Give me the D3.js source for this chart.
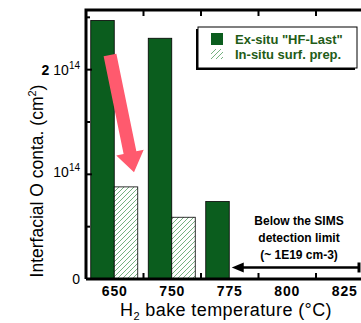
<!DOCTYPE html>
<html lang="en">
    <head>
        <meta charset="utf-8">
        <title>H2 bake</title>
        <script src="https://cdn.jsdelivr.net/npm/d3@7/dist/d3.min.js" charset="utf-8"></script>
        <style type="text/css">
            body { margin: 0; background: #fff; }
            #chart { width: 361px; height: 323px; overflow: hidden; }
            text { font-family: "Liberation Sans", Arial, sans-serif; }
        </style>
    </head>
    <body>
        <div id="chart"></div>
        <script>
            // Datos
            var categories = ["650", "750", "775", "800", "825"];
            var exSitu = [2.47, 2.30, 0.74, null, null];   // x 1e14 cm-2
            var inSitu = [0.88, 0.59, null, null, null];
            var seriesNames = ["Ex-situ \"HF-Last\"", "In-situ surf. prep."];
            var majorTicks = [0, 1, 2];
            var minorTicks = [0.5, 1.5, 2.5];
            var noteLines = ["Below the SIMS", "detection limit", "(~ 1E19 cm-3)"];

            var W = 361, H = 323;
            var margin = {top: 10, left: 86, bottom: 44};
            var plotW = 287.5, plotH = H - margin.top - margin.bottom;

            var green = "#0b5d1e", hatchCol = "#3a8f47", txtGreen = "#1f5c17";

            var svg = d3.select("#chart").append("svg")
                .attr("width", W)
                .attr("height", H);

            var defs = svg.append("defs");
            var pat = defs.append("pattern")
                .attr("id", "hatch")
                .attr("patternUnits", "userSpaceOnUse")
                .attr("width", 5).attr("height", 5);
            pat.append("rect").attr("width", 5).attr("height", 5).attr("fill", "#fff");
            pat.append("path").attr("d", "M-1,1 l2,-2 M0,5 l5,-5 M4,6 l2,-2")
                .attr("stroke", hatchCol).attr("stroke-width", 0.7);

            var g = svg.append("g")
                .attr("transform", "translate(" + margin.left + "," + margin.top + ")");

            // Escalas
            var x = d3.scaleBand().domain(categories).range([0, plotW]).padding(0);
            var x1 = d3.scaleBand().domain(["ex", "in"]).range([-24, 23]);
            var y = d3.scaleLinear().domain([0, 2.57]).range([plotH, 0]);

            var rows = categories.map(function(c, i) {
                return {cat: c, ex: exSitu[i], in: inSitu[i]};
            });

            // Barras
            ["ex", "in"].forEach(function(k) {
                g.selectAll(".bar-" + k)
                    .data(rows.filter(function(d) { return d[k] != null; }))
                    .enter()
                    .append("rect")
                    .attr("class", "bar-" + k)
                    .attr("x", function(d) { return x(d.cat) + x.bandwidth() / 2 + x1(k); })
                    .attr("width", x1.bandwidth())
                    .attr("y", function(d) { return y(d[k]); })
                    .attr("height", function(d) { return plotH - y(d[k]); })
                    .attr("fill", k == "ex" ? green : "url(#hatch)")
                    .attr("stroke", "#000")
                    .attr("stroke-width", 0.8);
            });

            // Ejes
            var boundaries = categories.slice(1).map(function(c) { return x(c); });
            var frame = g.append("g").attr("stroke", "#000").attr("stroke-width", 3).attr("fill", "none");
            frame.append("path").attr("d", "M0," + plotH + "V0H" + plotW);
            frame.append("path").attr("d", "M0," + plotH + "H" + plotW);

            var tickG = g.append("g").attr("stroke", "#000").attr("stroke-width", 2);
            boundaries.forEach(function(b) {
                tickG.append("line").attr("x1", b).attr("x2", b).attr("y1", plotH).attr("y2", plotH - 6);
                tickG.append("line").attr("x1", b).attr("x2", b).attr("y1", 0).attr("y2", 6);
            });
            majorTicks.forEach(function(t) {
                tickG.append("line").attr("x1", 0).attr("x2", 6).attr("y1", y(t)).attr("y2", y(t));
            });
            minorTicks.forEach(function(t) {
                tickG.append("line").attr("x1", 0).attr("x2", 4).attr("y1", y(t)).attr("y2", y(t));
            });

            // Etiquetas eje x
            g.selectAll(".xlab")
                .data(categories)
                .enter()
                .append("text")
                .attr("class", "xlab")
                .attr("x", function(d) { return x(d) + x.bandwidth() / 2; })
                .attr("y", plotH + 17)
                .attr("text-anchor", "middle")
                .style("font-size", "14px")
                .style("font-weight", "bold")
                .style("letter-spacing", "0.8px")
                .text(function(d) { return d; });

            // Etiquetas eje y
            var yl = g.append("g").attr("text-anchor", "end").style("font-size", "14px");
            yl.append("text").attr("x", -6).attr("y", y(0) + 5).text("0");
            var t1 = yl.append("text").attr("x", -6).attr("y", y(1) + 3);
            t1.append("tspan").text("10");
            t1.append("tspan").attr("dy", -6).style("font-size", "10px").text("14");
            var t2 = yl.append("text").attr("x", -6).attr("y", y(2) + 5);
            t2.append("tspan").style("font-weight", "bold").text("2 ");
            t2.append("tspan").text("10");
            t2.append("tspan").attr("dy", -6).style("font-size", "10px").text("14");

            // Titulos
            var xt = svg.append("text")
                .attr("x", 226).attr("y", 316)
                .attr("text-anchor", "middle")
                .style("font-size", "18px")
                .style("letter-spacing", "0.4px");
            xt.append("tspan").text("H");
            xt.append("tspan").attr("dy", 4).style("font-size", "11px").text("2");
            xt.append("tspan").attr("dy", -4).text(" bake temperature (°C)");

            var yt = svg.append("text")
                .attr("transform", "translate(43,181) rotate(-90)")
                .attr("text-anchor", "middle")
                .style("font-size", "17.5px");
            yt.append("tspan").text("Interfacial O conta. (cm");
            yt.append("tspan").attr("dy", -7).style("font-size", "11px").text("2");
            yt.append("tspan").attr("dy", 7).text(")");

            // Flecha rosa
            var p0 = [x("650") + 24, y(2.14)], p1 = [x("650") + 48, y(1.02)];
            var dx = p1[0] - p0[0], dy = p1[1] - p0[1], len = Math.sqrt(dx * dx + dy * dy);
            var ux = dx / len, uy = dy / len, nx = -uy, ny = ux;
            var sw = 6.5, hw = 14, hl = 20;
            var bx = p1[0] - ux * hl, by = p1[1] - uy * hl;
            var pts = [
                [p0[0] + nx * sw, p0[1] + ny * sw],
                [bx + nx * sw, by + ny * sw],
                [bx + nx * hw, by + ny * hw],
                p1,
                [bx - nx * hw, by - ny * hw],
                [bx - nx * sw, by - ny * sw],
                [p0[0] - nx * sw, p0[1] - ny * sw]
            ];
            g.append("polygon")
                .attr("points", pts.map(function(p) { return p.join(","); }).join(" "))
                .attr("fill", "#ff5a6e");

            // Leyenda
            var lg = svg.append("g").attr("transform", "translate(198,27)");
            lg.append("rect").attr("x", -2).attr("y", 2).attr("width", 159).attr("height", 41).attr("fill", "#000");
            lg.append("rect").attr("width", 159).attr("height", 41).attr("fill", "#fff")
                .attr("stroke", "#000").attr("stroke-width", 1);
            lg.append("rect").attr("x", 13).attr("y", 6).attr("width", 12).attr("height", 12).attr("fill", green);
            lg.append("rect").attr("x", 13).attr("y", 22).attr("width", 12).attr("height", 10).attr("fill", "url(#hatch)");
            lg.selectAll(".lt")
                .data(seriesNames)
                .enter()
                .append("text")
                .attr("class", "lt")
                .attr("x", 37)
                .attr("y", function(d, i) { return 17 + i * 15; })
                .style("font-size", "13px")
                .style("font-weight", "bold")
                .style("fill", txtGreen)
                .text(function(d) { return d; });

            // Nota SIMS
            var note = svg.append("g");
            note.selectAll("text")
                .data(noteLines)
                .enter()
                .append("text")
                .attr("x", 299)
                .attr("y", function(d, i) { return 225 + i * 17; })
                .attr("text-anchor", "middle")
                .style("font-size", "12px")
                .style("font-weight", "bold")
                .text(function(d) { return d; });
            var ay = margin.top + y(0.11);
            var ax0 = margin.left + x("775") + x.bandwidth() / 2 + 2, ax1 = 359;
            note.append("line").attr("x1", ax0 + 8).attr("x2", ax1).attr("y1", ay).attr("y2", ay)
                .attr("stroke", "#000").attr("stroke-width", 2.5);
            note.append("path").attr("d", "M" + ax0 + "," + ay + "l12,-5v10z").attr("fill", "#000");
            note.append("line").attr("x1", ax1).attr("x2", ax1).attr("y1", ay - 5).attr("y2", ay + 5)
                .attr("stroke", "#000").attr("stroke-width", 3);
        </script>
    </body>
</html>
